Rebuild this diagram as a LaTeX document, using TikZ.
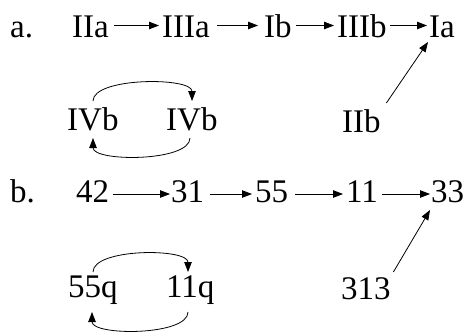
\documentclass[tikz,border=0pt]{standalone}
\usepackage{fontspec}
\setmainfont{Liberation Serif}
\usetikzlibrary{arrows.meta}
\tikzset{
  lab/.style={anchor=base west, inner sep=0pt, font=\fontsize{33bp}{40bp}\selectfont},
  arr/.style={-{Triangle[length=10bp,width=7.5bp]}, line width=0.8bp},
}
\begin{document}
\begin{tikzpicture}[x=1bp,y=-1bp]
\useasboundingbox (0,0) rectangle (466,331);
% row a
\node[lab] (la) at (10,37.5) {a.};
\node[lab] (IIa) at (72,37.5) {IIa};
\node[lab] (IIIa) at (162,37.5) {IIIa};
\node[lab] (Ib) at (264,37.5) {Ib};
\node[lab] (IIIb) at (337,37.5) {IIIb};
\node[lab] (Ia) at (429,37.5) {Ia};
\node[lab] (IVbL) at (67,130) {IVb};
\node[lab] (IVbR) at (166,130) {IVb};
\node[lab] (IIb) at (342,132) {IIb};
\draw[arr] ([shift={(5,-12)}]IIa.base east) -- ([shift={(-3,-12)}]IIIa.base west);
\draw[arr] ([shift={(7,-12)}]IIIa.base east) -- ([shift={(-6,-12)}]Ib.base west);
\draw[arr] ([shift={(4,-12)}]Ib.base east) -- ([shift={(-3,-12)}]IIIb.base west);
\draw[arr] ([shift={(3,-12)}]IIIb.base east) -- ([shift={(-2,-12)}]Ia.base west);
\draw[arr] ([shift={(5.5,-29)}]IIb.base east) -- ([shift={(-1,4.5)}]Ia.base west);
\draw[arr] ([shift={(26,-29)}]IVbL.base west) .. controls +(0,-24) and +(0,-24) .. ([shift={(26,-29)}]IVbR.base west);
\draw[arr] ([shift={(24,8)}]IVbR.base west) .. controls +(0,24) and +(0,24) .. ([shift={(26,8)}]IVbL.base west);
% row b
\node[lab] (lb) at (10,202.5) {b.};
\node[lab] (n42) at (76,202.5) {42};
\node[lab] (n31) at (171,202.5) {31};
\node[lab] (n55) at (255,202.5) {55};
\node[lab] (n11) at (346,202.5) {11};
\node[lab] (n33) at (431,202.5) {33};
\node[lab] (n55q) at (68,297) {55q};
\node[lab] (n11q) at (166,297) {11q};
\node[lab] (n313) at (341,299) {313};
\draw[arr] ([shift={(4,-8.5)}]n42.base east) -- ([shift={(-1,-8.5)}]n31.base west);
\draw[arr] ([shift={(6,-8.5)}]n31.base east) -- ([shift={(-3,-8.5)}]n55.base west);
\draw[arr] ([shift={(7,-8.5)}]n55.base east) -- ([shift={(-3,-8.5)}]n11.base west);
\draw[arr] ([shift={(4,-8.5)}]n11.base east) -- ([shift={(-1,-8.5)}]n33.base west);
\draw[arr] ([shift={(2.5,-27)}]n313.base east) -- ([shift={(-1,7.5)}]n33.base west);
\draw[arr] ([shift={(25,-25)}]n55q.base west) .. controls +(0,-24) and +(0,-24) .. ([shift={(22,-25)}]n11q.base west);
\draw[arr] ([shift={(22,15)}]n11q.base west) .. controls +(0,24) and +(0,24) .. ([shift={(24,15)}]n55q.base west);
\end{tikzpicture}
\end{document}
